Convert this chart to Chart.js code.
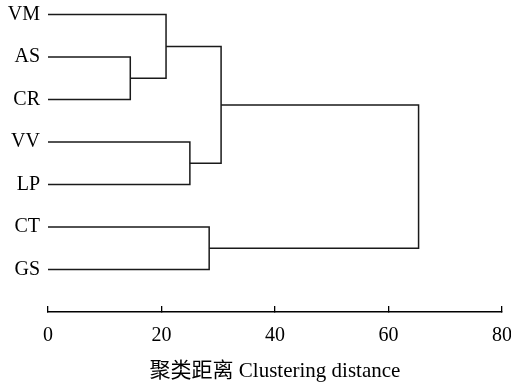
<!DOCTYPE html>
<html>
<head>
<meta charset="utf-8">
<script src="https://cdn.jsdelivr.net/npm/chart.js@4/dist/chart.umd.min.js"></script>
<style>
html,body{margin:0;padding:0;background:#fff;}
#wrap{width:511px;height:385px;}
</style>
</head>
<body>
<div id="wrap"><canvas id="c"></canvas></div>
<script>
// Leaves (top to bottom)
const leaves = ['VM', 'AS', 'CR', 'VV', 'LP', 'CT', 'GS'];
// Merges: node ids 0..6 are leaves, each merge creates node 7, 8, ...
const mergeLeft   = [1, 0, 3, 8, 5, 10];
const mergeRight  = [2, 7, 4, 9, 6, 11];
const mergeHeight = [14.5, 20.8, 25.0, 30.5, 28.4, 65.3];
const xTicks = [0, 20, 40, 60, 80];

const serif = "'Liberation Serif', 'Times New Roman', serif";
const titleFont = "'Liberation Serif', 'Noto Sans CJK SC', serif";

// node positions: y = leaf order, height = merge distance
const nodeY = leaves.map((_, i) => i);
const nodeH = leaves.map(() => 0);
const datasets = [];
for (let k = 0; k < mergeHeight.length; k++) {
  const a = mergeLeft[k], b = mergeRight[k], h = mergeHeight[k];
  datasets.push({
    data: [
      {x: nodeH[a], y: nodeY[a]},
      {x: h, y: nodeY[a]},
      {x: h, y: nodeY[b]},
      {x: nodeH[b], y: nodeY[b]}
    ],
    showLine: true,
    borderColor: '#1a1a1a',
    borderWidth: 1.5,
    pointRadius: 0,
    tension: 0,
    fill: false
  });
  nodeY.push((nodeY[a] + nodeY[b]) / 2);
  nodeH.push(h);
}

new Chart(document.getElementById('c'), {
  type: 'scatter',
  data: { datasets },
  options: {
    responsive: true,
    maintainAspectRatio: false,
    animation: false,
    layout: { padding: { left: 0, right: 9, top: 4, bottom: 1 } },
    plugins: { legend: { display: false }, tooltip: { enabled: false } },
    scales: {
      x: {
        type: 'linear',
        position: 'bottom',
        min: 0, max: 80,
        afterBuildTicks: s => { s.ticks = xTicks.map(v => ({value: v})); },
        afterFit: s => { s.height = 72; s.paddingLeft = 0; s.paddingRight = 0; },
        grid: { drawOnChartArea: false, drawTicks: true, tickLength: -6, color: '#000', lineWidth: 1.3 },
        border: { display: true, color: '#000', width: 1.5 },
        ticks: { color: '#000', font: { family: serif, size: 20 }, padding: 18, maxRotation: 0 },
        title: { display: true, text: '聚类距离 Clustering distance', color: '#000', font: { family: titleFont, size: 21 }, padding: { top: 4, bottom: 0 } }
      },
      y: {
        type: 'linear',
        reverse: true,
        min: -0.25, max: 7.0,
        afterBuildTicks: s => { s.ticks = leaves.map((_, i) => ({value: i})); },
        afterFit: s => { s.width = 48; s.paddingTop = 0; s.paddingBottom = 0; },
        grid: { display: false, drawTicks: false },
        border: { display: false },
        ticks: { color: '#000', font: { family: serif, size: 20 }, padding: 8, callback: v => leaves[v] }
      }
    }
  }
});
</script>
</body>
</html>
